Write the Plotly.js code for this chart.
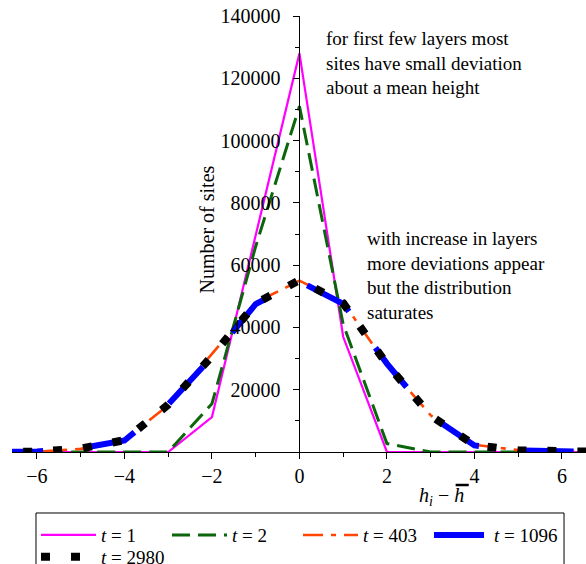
<!DOCTYPE html>
<html>
<head>
<meta charset="utf-8">
<script src="https://cdn.plot.ly/plotly-3.0.1.min.js"></script>
<style>
  html, body { margin: 0; padding: 0; background: #ffffff; }
  #chart { width: 586px; height: 564px; }
</style>
</head>
<body>
<div id="chart"></div>
<script>
// Height deviation h_i - mean(h) (integer bins)
const deviation = [-7, -6, -5, -4, -3, -2, -1, 0, 1, 2, 3, 4, 5, 6, 7];

// Number of sites in each bin, one array per time step
const sites_t1    = [0, 0, 0, 0, 0, 11200, 69500, 128000, 37000, 0, 0, 0, 0, 0, 0];
const sites_t2    = [0, 0, 0, 0, 0, 15500, 66000, 111000, 41000, 2700, 0, 0, 0, 0, 0];
const sites_t403  = [0, 100, 1000, 3900, 15000, 31500, 48000, 55000, 48000, 28000, 11800, 2300, 600, 100, 0];
const sites_t1096 = [0, 150, 1200, 3700, 15300, 30500, 47500, 54800, 47600, 28400, 11600, 2100, 500, 120, 0];
const sites_t2980 = [0, 120, 1100, 3800, 15200, 30800, 47700, 55200, 47800, 28200, 11700, 2200, 550, 110, 0];

const legendNames = ['<i>t</i> = 1', '<i>t</i> = 2', '<i>t</i> = 403', '<i>t</i> = 1096', '<i>t</i> = 2980'];

// Axis ticks
const xTickVals = [-6, -4, -2, 0, 2, 4, 6];
const yTickVals = [20000, 40000, 60000, 80000, 100000, 120000, 140000];

const xRange = [-6.57, 6.55];
const yRange = [0, 140000];

const serif = 'Liberation Serif';

const traces = [
  { x: deviation, y: sites_t1, name: legendNames[0], mode: 'lines',
    line: { color: '#ff00ff', width: 2.2 } },
  { x: deviation, y: sites_t2, name: legendNames[1], mode: 'lines',
    line: { color: '#0b650b', width: 3, dash: '18px,8px' } },
  { x: deviation, y: sites_t403, name: legendNames[2], mode: 'lines',
    line: { color: '#ff4500', width: 2.6, dash: '20px,8px,5px,8px' } },
  { x: deviation, y: sites_t1096, name: legendNames[3], mode: 'lines',
    line: { color: '#0000ff', width: 6, dash: '50px,45px' } },
  { x: deviation, y: sites_t2980, name: legendNames[4], mode: 'lines', legend: 'legend2',
    line: { color: '#000000', width: 8, dash: '9px,21px' } }
];

// vertical axis sits at x = 0
const yAxisPos = (0 - xRange[0]) / (xRange[1] - xRange[0]);

const legendFont = { family: serif, size: 19, color: '#000000' };

const layout = {
  width: 586,
  height: 564,
  margin: { l: 12, r: 0, t: 16, b: 112, pad: 0, autoexpand: false },
  paper_bgcolor: '#ffffff',
  plot_bgcolor: '#ffffff',
  font: { family: serif, size: 19, color: '#000000' },
  showlegend: true,
  xaxis: {
    range: xRange,
    showline: true, linecolor: '#000000', linewidth: 1,
    ticks: 'outside', ticklen: 6, tickcolor: '#000000', tickwidth: 1,
    tickmode: 'array', tickvals: xTickVals,
    showgrid: false, zeroline: false,
    minor: { dtick: 1, tick0: 0, ticks: 'outside', ticklen: 4, tickcolor: '#000000', showgrid: false },
    tickfont: { family: serif, size: 20, color: '#000000' }
  },
  yaxis: {
    range: yRange,
    anchor: 'free', position: yAxisPos,
    showline: true, linecolor: '#000000', linewidth: 1,
    ticks: 'outside', ticklen: 6, tickcolor: '#000000', tickwidth: 1,
    tickmode: 'array', tickvals: yTickVals, tickformat: 'd',
    ticklabelstandoff: 9,
    showgrid: false, zeroline: false,
    minor: { dtick: 10000, tick0: 0, ticks: 'outside', ticklen: 4, tickcolor: '#000000', showgrid: false },
    tickfont: { family: serif, size: 20, color: '#000000' }
  },
  legend: {
    orientation: 'h',
    x: 0.0418, xanchor: 'left',
    y: -0.147, yanchor: 'top',
    borderwidth: 0, bgcolor: 'rgba(0,0,0,0)',
    font: legendFont,
    itemwidth: 55,
    entrywidth: 61, entrywidthmode: 'pixels',
    traceorder: 'normal'
  },
  legend2: {
    orientation: 'h',
    x: 0.0418, xanchor: 'left',
    y: -0.197, yanchor: 'top',
    borderwidth: 0, bgcolor: 'rgba(0,0,0,0)',
    font: legendFont,
    itemwidth: 55,
    entrywidth: 61, entrywidthmode: 'pixels'
  },
  annotations: [
    { xref: 'x', yref: 'y', x: 0.55, y: 136800, xanchor: 'left', yanchor: 'top', align: 'left',
      showarrow: false, font: { family: serif, size: 19 },
      text: 'for first few layers most<br>sites have small deviation<br>about a mean height' },
    { xref: 'x', yref: 'y', x: 1.5, y: 72600, xanchor: 'left', yanchor: 'top', align: 'left',
      showarrow: false, font: { family: serif, size: 19 },
      text: 'with increase in layers<br>more deviations appear<br>but the distribution<br>saturates' },
    { xref: 'x', yref: 'y', x: -2.11, y: 71500, textangle: -90, showarrow: false,
      font: { family: serif, size: 20 }, text: 'Number of sites' },
    { xref: 'x', yref: 'paper', x: 3.25, y: -0.103, xanchor: 'center', yanchor: 'middle', showarrow: false,
      font: { family: serif, size: 20 }, text: '<i>h</i><sub><i>i</i></sub> − <i>h</i>' }
  ],
  shapes: [
    // bar over the mean height symbol
    { type: 'line', xref: 'x', yref: 'paper', x0: 3.57, x1: 3.87, y0: -0.0757, y1: -0.0757,
      line: { color: '#000000', width: 2.5 } },
    // frame around the key
    { type: 'rect', xref: 'paper', yref: 'paper', x0: 0.0418, x1: 0.9617, y0: -0.1399, y1: -0.29,
      line: { color: '#000000', width: 1 }, fillcolor: 'rgba(0,0,0,0)' }
  ]
};

Plotly.newPlot('chart', traces, layout, { displayModeBar: false, staticPlot: true });
</script>
</body>
</html>
